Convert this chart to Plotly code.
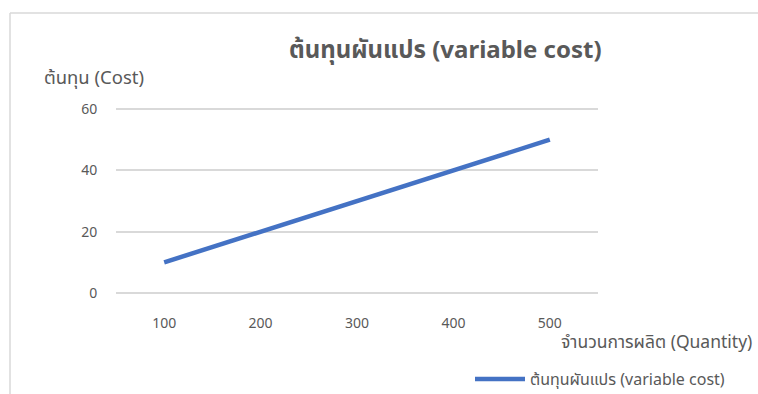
import plotly.graph_objects as go

# Production quantity (categories) and variable cost per level
quantity = ["100", "200", "300", "400", "500"]
variable_cost = [10, 20, 30, 40, 50]
y_ticks = [0, 20, 40, 60]

series_name = "ต้นทุนผันแปร (variable cost)"
chart_title = "ต้นทุนผันแปร (variable cost)"
y_title = "ต้นทุน (Cost)"
x_title = "จำนวนการผลิต (Quantity)"

FONT = "Noto Sans, Noto Sans Thai, Tahoma, sans-serif"
TEXT = "#595959"
GRID = "#d9d9d9"

W, H = 758, 394
Y_MAX = 61
L, R, B = 116, 160, 101
T = round(H - B - 184 * Y_MAX / 60)
pw, ph = W - L - R, H - T - B


def px_x(x):
    return (x - L) / pw


def px_y(y):
    return (H - B - y) / ph


fig = go.Figure()
fig.add_trace(go.Scatter(
    x=quantity, y=variable_cost, mode="lines", name=series_name,
    line=dict(color="#4472c4", width=4.5),
))

fig.update_layout(
    width=W, height=H,
    margin=dict(l=L, r=R, t=T, b=B, autoexpand=False),
    paper_bgcolor="white", plot_bgcolor="white",
    font=dict(family=FONT, color=TEXT, size=14),
    showlegend=True,
    legend=dict(
        xref="container", yref="container",
        x=470 / W, y=1 - 379 / H, xanchor="left", yanchor="middle",
        orientation="h", font=dict(size=16, color=TEXT),
        bgcolor="rgba(0,0,0,0)", itemwidth=50,
    ),
    xaxis=dict(
        type="category", range=[-0.5, 4.5],
        showgrid=False, zeroline=False, showline=False,
        ticks="outside", ticklen=17, tickcolor="rgba(0,0,0,0)",
        tickfont=dict(size=14, color=TEXT),
    ),
    yaxis=dict(
        range=[0, Y_MAX], tickvals=y_ticks,
        showgrid=True, gridcolor=GRID, gridwidth=1.5,
        zeroline=True, zerolinecolor=GRID, zerolinewidth=1.5,
        showline=False, ticks="outside", ticklen=15,
        tickcolor="rgba(0,0,0,0)",
        tickfont=dict(size=14, color=TEXT),
    ),
    annotations=[
        dict(text=f"<b>{chart_title}</b>", xref="paper", yref="paper",
             x=px_x(445), y=px_y(48), xanchor="center", yanchor="middle",
             showarrow=False, font=dict(size=24, color=TEXT)),
        dict(text=y_title, xref="paper", yref="paper",
             x=px_x(42), y=px_y(76), xanchor="left", yanchor="middle",
             showarrow=False, font=dict(size=18.5, color=TEXT)),
        dict(text=x_title, xref="paper", yref="paper",
             x=px_x(559), y=px_y(341), xanchor="left", yanchor="middle",
             showarrow=False, font=dict(size=17.5, color=TEXT)),
    ],
    shapes=[
        dict(type="line", xref="paper", yref="paper",
             x0=px_x(10), x1=px_x(W + 5), y0=px_y(13), y1=px_y(13),
             line=dict(color=GRID, width=1.5)),
        dict(type="line", xref="paper", yref="paper",
             x0=px_x(10), x1=px_x(10), y0=px_y(13), y1=px_y(H + 5),
             line=dict(color=GRID, width=1.5)),
    ],
)

fig.write_html("out.html")
